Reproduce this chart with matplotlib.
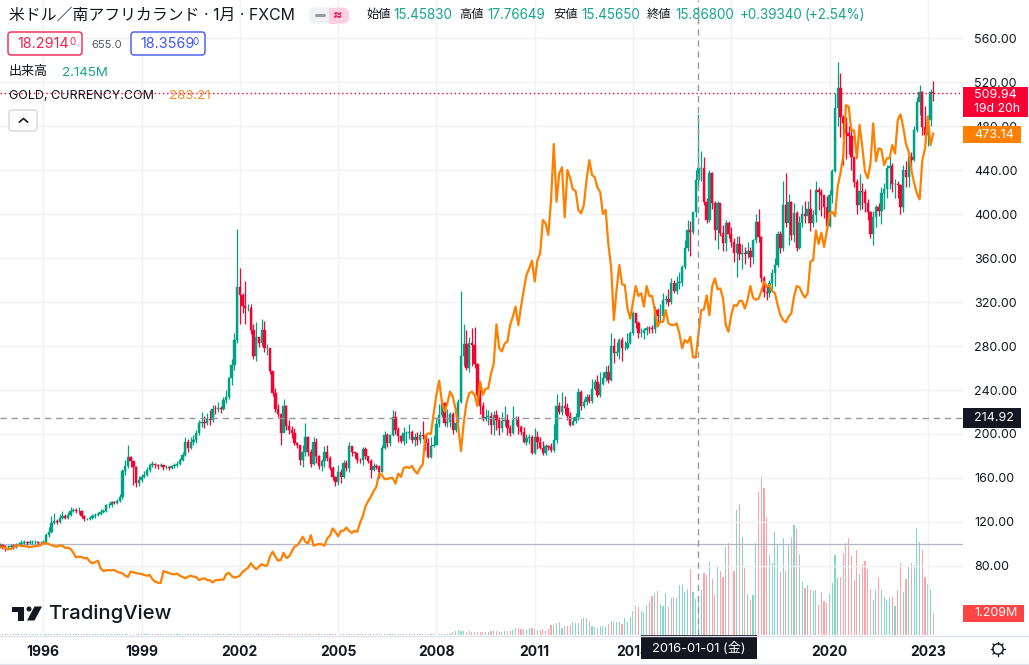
import numpy as np
import matplotlib
matplotlib.use('Agg')
import matplotlib.pyplot as plt
from matplotlib.patches import FancyBboxPatch, Rectangle, Polygon, Circle

plt.rcParams['font.family'] = ['Inter', 'Noto Sans CJK JP', 'DejaVu Sans']

# month index, 0 = 1996-01
months = np.arange(-16, 327)

closes = [99,98,97,97,98,97,99,100,101,102,101,102,102,102,101,101,
 102,108,111,119.5,121,120,124,125,124,126,130,131,130,130,125,123,123,124,125,126,127,129,130,135,135,138,137,139,143,
 166,171,179,175,170,155,158,161,163,167,172,173,172,171,172,170,170,169,171,172,173,176,181,193,187,193,194.5,201,209.6,210.5,209.6,214,212.7,222.7,222.4,223.3,222.4,230.9,233.3,250.5,262.7,285.4,333.3,
 326,316,315,315,295,271,288,283,294.5,278,278,257,237.5,223,218,200.6,225,207,204,200.6,192,190,176,184,197,184,173,193,180,171,175,184,178,169,160.6,156.6,165.7,160.6,173.9,168.7,189,184,182.4,176.3,176,186,180,175.7,167.2,170.9,170.3,165.7,
 187,199,191.5,199,215,204,198,193.6,200.6,201,202,194.5,197,194.5,199,198.5,191.5,179.4,189.4,190,
 209,217,228.5,209.7,211,218,203.6,210,229.4,271,282,260,283,281,264,235.5,225,214,215,216,
 208,217,213,205,212,213,205,201,213,213,206,202,193,196,197.6,183,197.6,193,187.6,182.4,
 189,188.5,185,194.5,225,220,225,223.6,216,208,212,215.8,238.5,225.5,229.4,233.3,230,241,247.6,235.5,
 245.5,250.6,256.7,249,280,274,275,285.5,278.5,278.5,282.4,291.5,309.7,300.6,292,292,294.5,296.7,296,295.5,
 313,307,307,321.8,323,320,337,330,337.6,
 338.5,352,369,385.5,384,401.5,431,441.5,441.5,411,394.5,437,409.7,385.5,409.7,382.4,374,391.5,382,375,365,372.7,363.6,365,363.6,366.7,361,376.4,392.4,379.4,341.5,329.4,328.5,337,346,353.6,381.8,368.8,408,391.5,411,381,400.6,368.8,391.5,400,398,405,391.5,399,421.8,420,417,406.7,389.4,
 417,439.4,496,515,488.5,482.4,474,471,451.5,429.4,408,421,420,410,402,382,397,406,403,419,423,441.5,443.6,427,427,426,406,440,434,452,449,476,502,510.6,479,472,485.5,510.6,509.94]

highs = [101,100,99,99,100,100,101,102,104,104,103,104,104,104,103,103,
 104,110,115,125,128,123,127,130,127,129,134,133,133,134,131,126,124,125,127,128,129,132,132,136,137,139,139,141,145,
 168,176,190,180,175,171,162,164,166,170,174,175,174,173,174,172,172,171,172,174,175,178,184,197,195,197,199,204,213,220,216,219,222,226,226,229,225,234,240,252,268,292,386,
 351,328,339,318,318,300,302,288,305,303,282,262,246,242,227,208,232,226,213,207,205,193,190,190,210,198,186,197,196,181,177,189,190,180,171,162,172,168,176,176,193,189,184,180,178,188,188,178,177,174,173,172,
 190,203,201,200,222,221,206,199,206,203,209,204,201,202,203,212,199,196,197,199,
 215,227,231,229,223,220,220,224,232,330,300,295,288,296,297,265,243,229,223,222,
 220,221,222,215,220,225,218,208,225,216,216,208,206,200,200,199,205,203,197,194,
 191,190,192,209,236,229,238,235,228,220,215,219,242,240,232,236,236,250,250,254,
 256,256,262,263,292,287,284,287,288,285,292,294,312,310,303,296,296,298,298,299,
 316,315,318,328,326,332,342,340,344,
 347,354,376,395,394,402,440,491,457,452,415,440,438,412,412,408,390,395,394,388,378,380,380,373,370,375,370,377,400,405,380,344,335,340,350,360,385,385,430,437,418,412,410,403,398,408,412,412,423,404,430,425,423,412,416,
 422,441,510,538,528,490,488,480,478,450,432,436,428,423,414,403,403,408,410,425,428,445,455,446,432,430,427,445,448,455,456,480,506,517,512,498,490,514,521]

lows = [96,95,94,95,96,95,96,98,99,100,99,100,100,100,99,99,
 100,101,106,110,118,118,119,123,123,123,125,129,128,127,124,121,122,122,123,124,125,126,128,129,133,134,136,136,138,
 141,163,169,170,154,152,153,156,160,162,165,170,169,168,170,167,168,167,168,169,170,172,175,180,184,186,190,192,199,206,205,208,208,211,218,220,219,222,228,232,245,258,283,
 300,310,300,312,291,268,266,279,280,275,272,255,235,220,215,190,203,204,200,196,190,187,172,170,180,180,170,172,174,168,166,170,175,167,158,153,154,155,160,166,165,180,178,174,174,172,177,174,160,166,168,160,
 165,186,188,189,198,200,193,192,190,192,195,192,189,190,192,195,185,178,178,188,
 190,206,215,207,206,206,200,202,208,228,262,258,256,262,260,231,218,212,212,208,
 200,199,204,199,202,207,199,198,200,208,200,199,192,190,191,182,182,186,186,181,
 181,185,184,184,192,218,217,218,213,207,208,210,213,222,224,226,228,228,240,234,
 234,245,248,246,248,265,271,268,266,276,277,282,290,296,287,288,286,290,292,292,
 292,302,302,303,318,316,318,328,327,
 332,335,350,366,362,382,397,425,430,408,392,393,405,376,368,380,366,366,378,370,356,343,358,350,355,360,352,355,374,375,338,325,322,325,330,335,352,365,366,388,372,376,375,366,368,388,392,392,385,388,393,404,398,396,387,
 388,410,438,480,470,445,450,455,440,425,400,404,405,402,395,378,372,388,398,391,405,415,423,420,415,415,400,402,425,425,440,448,475,490,472,465,462,480,503]

gold = [97.6,97.2,96.7,95.2,95.4,96.7,98.8,98.8,98.2,98.2,97.6,97.2,97.6,97.9,98.5,98.8,
 101,100.6,100,99,98,97.6,98.5,98.5,96.4,96.7,
 95.5,92,87.9,88.5,88.2,87,87.3,84,82.4,83.6,
 84.8,77.9,75.4,76,76.3,76,76.4,74.8,73.9,73.3,
 71.2,70,75,74.2,73.6,73,72.7,71.8,71.2,71.8,
 67.9,65.7,64.8,64.5,75.4,74.5,73.6,72.7,72.4,73,
 71.2,70,68.8,70.3,71.2,70.3,70,67.2,68.2,68.8,
 67.2,67,65.1,67,67.2,67.6,67.6,72.7,73.9,70.9,
 69.4,70,71.2,74.8,76.4,78.5,82.4,79.4,77,79.4,
 81.8,80.3,80.3,88.5,93,88.5,84.8,85.4,92,87.3,
 88.5,93,97.6,98.8,102,106.6,102,100.6,108,98.5,
 99.4,100,99.7,98.5,105,107.6,114.2,111,107,
 112,112,115,112,110,112,111,119,125,134,139,143,148,152,164,
 163,159,159,160,160,155,164,161,169,170,169,171,166.7,164,169,172.4,199,200.6,200,218.8,
 235.5,248.5,229.4,220.3,228,238.5,234,223,206.7,184.5,209.7,228,237,238.5,235.5,225.5,247.6,235.5,241,241.5,
 255,264,299.7,278,275,282.4,284,299,306.7,315.8,299,315.8,331,
 344.6,350.6,357.6,338.5,358,364.3,394.6,391.6,381,412.8,463.7,411,437,442.5,397,440,432.5,422.5,421,403.7,400.6,408,431,449,435.5,433.4,424,
 420,400,403.7,372,352,303.6,331,353.6,336,335.5,314,305,320,334.5,325.5,328,315.8,334.5,325.5,325.5,
 312.7,297.6,302,302,312.7,300.6,299,299,300.6,291.5,278,285.5,283,288.5,270,269.4,
 291.5,312.7,313.3,326,308,334,341.5,331.5,332.4,323,299,293,
 308,317.3,316.4,321,321,314,322,334.5,324,322,323,329.4,338.5,334,335.5,330,328,317.3,308,303.6,301.5,306.7,309.7,325,334.5,333.3,328,324,328,356.7,358,385,372.7,383,370,384,
 400.6,402,398,425,437,452,499,497.6,476,476,450.6,481,461,438.5,432.4,446,482.4,448,459.7,458.8,444.5,450.6,450.6,462.7,455,485.5,490.6,479,464,456.7,440,428,418.8,413.3,449,459.7,488.5,462.7,473.14]

# volume in millions, flat thin row before 2007
volume = [0.05]*158 + [0.07]*8 + [.17,.22,.28,.24,.24,.17,.22,.17,.17,.17,.17,.17,.15,.17,.22,.22,.22,.17,.17,.20,.22,.22,.28,.37,.41,.33,.33,.26,.37,.39,.33,.28,.28,.33,.22,.35,.56,.56,.65,.72,.41,.48,.52,.56,.72,.67,.69,.91,.96,.93,.76,.50,.46,.41,
 .50,.50,.46,.61,.78,.72,.72,.72,.61,.93,.74,1.02,1.34,1.62,1.58,1.34,1.28,1.67,1.82,2.17,2.34,2.45,1.73,1.62,2.34,1.56,2.06,2.10,2.06,2.79,2.84,2.40,2.57,3.68,2.40,2.01,
 2.145,2.51,3.46,3.35,4.07,3.12,2.23,3.85,3.57,3.23,4.91,5.13,3.23,3.57,6.97,7.30,5.46,3.74,2.29,1.95,2.23,5.13,7.97,8.87,8.20,6.52,4.46,4.01,5.74,5.02,3.51,5.41,3.57,5.07,5.46,6.13,5.91,4.52,2.96,2.62,2.79,2.51,2.45,2.51,1.67,2.40,1.90,1.78,2.29,2.90,4.46,3.18,3.23,4.57,5.13,5.41,4.41,3.07,4.74,3.40,3.96,4.13,3.68,2.57,1.95,2.51,3.23,2.51,2.12,1.95,2.06,2.12,1.62,2.51,4.01,2.40,3.12,3.79,4.01,3.90,5.97,5.19,4.74,3.23,2.84,2.51,1.209]

price_ticks = [80,120,160,200,240,280,320,360,400,440,480,520,560]
year_ticks = [0,36,72,108,144,180,216,252,288,324]
year_labels = ['1996','1999','2002','2005','2008','2011','2014','2017','2020','2023']

GREEN = '#00a287'
RED = '#f8002f'
ORANGE = '#ff8000'
TEXT = '#131722'
GRID = '#f1f2f6'

closes = np.array(closes, dtype=float)
opens = np.r_[closes[0], closes[:-1]]
up = closes >= opens

W, H = 1029, 665
fig = plt.figure(figsize=(W/100, H/100), dpi=100, facecolor='white')
rect = [0, 30/H, 963/W, 635/H]

# volume sits underneath the prices
axv = fig.add_axes(rect, zorder=0)
axv.bar(months, volume, width=0.42, color=np.where(up, '#7fd8c9', '#ffa3a8'), linewidth=0)
axv.set_xlim(-15.86, 336.9)
axv.set_ylim(0, 35.4)
axv.axis('off')

ax = fig.add_axes(rect, zorder=1)
ax.patch.set_alpha(0)
ax.set_xlim(-15.86, 336.9)
ax.set_ylim(17.27, 594.55)
ax.set_xticks(year_ticks)
ax.set_xticklabels(year_labels, fontsize=10, fontweight='bold', color=TEXT)
ax.set_yticks(price_ticks)
ax.set_yticklabels(['%.2f' % p for p in price_ticks], fontsize=9, color=TEXT)
ax.yaxis.tick_right()
ax.tick_params(axis='both', length=0)
ax.tick_params(axis='x', pad=7)
ax.tick_params(axis='y', pad=8)
ax.grid(True, color=GRID, linewidth=1)
ax.set_axisbelow(True)
for s in ax.spines.values():
    s.set_visible(False)

ax.axhline(100, color='#b2b5c4', linewidth=0.9, zorder=1.5)
ax.vlines(months, lows, highs, color=np.where(up, GREEN, RED), linewidth=0.9, zorder=2)
ax.bar(months, closes-opens, bottom=opens, width=0.86, color=np.where(up, GREEN, RED),
       edgecolor=np.where(up, GREEN, RED), linewidth=0.3, zorder=2.2)
ax.plot(months, gold, color=ORANGE, linewidth=1.6, solid_joinstyle='round', zorder=3)

ax.axhline(closes[-1], color=RED, linewidth=1, linestyle=(0, (1, 2)), zorder=3.5)
ax.axhline(214.92, color='#9598a1', linewidth=1, linestyle=(0, (4.5, 3.5)), zorder=3.5)
ax.axvline(240, color='#9598a1', linewidth=1, linestyle=(0, (4.5, 3.5)), zorder=3.5)

# overlay in pixels for legend, tags and logo
px = fig.add_axes([0, 0, 1, 1], zorder=5)
px.set_xlim(0, W)
px.set_ylim(H, 0)
px.axis('off')

def txt(x, y, s, color=TEXT, size=9.4, ha='left', **kw):
    px.text(x, y, s, color=color, fontsize=size, ha=ha, va='center', **kw)

def tag(x0, x1, y0, y1, color):
    px.add_patch(Rectangle((x0, y0), x1-x0, y1-y0, facecolor=color, edgecolor='none'))

def box(x0, y0, w, h, color):
    px.add_patch(FancyBboxPatch((x0+3, y0+3), w-6, h-6, boxstyle='round,pad=3', facecolor='white',
                                edgecolor=color, linewidth=1))

txt(9, 15, '米ドル／南アフリカランド · 1月 · FXCM', size=11.4)

# pill
px.add_patch(FancyBboxPatch((311, 9.5), 24, 12, boxstyle='round,pad=2,rounding_size=6', facecolor='#f0f1f5', edgecolor='none'))
px.add_patch(FancyBboxPatch((332, 7.5), 17, 16, boxstyle='round,pad=0,rounding_size=6', facecolor='#fbd0e0', edgecolor='none'))
px.add_patch(Rectangle((329, 7.5), 8, 16, facecolor='#fbd0e0', edgecolor='none'))
px.plot([316, 324], [15, 15], color='#9a9ca5', linewidth=2.2, solid_capstyle='round')
txt(338, 15, '≈', color='#e0105a', size=10, ha='center', fontweight='bold')

TEAL = '#17a58c'
for x, s, c in [(366, '始値', TEXT), (393, '15.45830', TEAL), (459, '高値', TEXT), (487, '17.76649', TEAL),
                (553, '安値', TEXT), (581, '15.45650', TEAL), (647, '終値', TEXT), (675, '15.86800', TEAL),
                (740, '+0.39340', TEAL), (805, '(+2.54%)', TEAL)]:
    txt(x, 15, s, color=c, size=9.7 if c == TEAL else 8.8)

box(8, 32, 74, 23, '#f7204f')
txt(17, 44.5, '18.2914', color='#f7204f', size=10.4)
txt(69, 42, '0', color='#f7204f', size=7)
txt(91, 45, '655.0', color='#50535e', size=8)
box(131, 32, 74, 23, '#3f55f0')
txt(140, 44.5, '18.3569', color='#3f55f0', size=10.4)
txt(192, 42, '0', color='#3f55f0', size=7)
txt(9, 72, '出来高', size=9.4)
txt(62, 72.5, '2.145M', color=TEAL, size=9.6)
txt(9, 96, 'GOLD, CURRENCY.COM', size=9)
txt(169, 96, '283.21', color='#ff8a2a', size=9.6)

px.add_patch(FancyBboxPatch((11, 112), 24, 17, boxstyle='round,pad=2,rounding_size=3', facecolor='white',
                            edgecolor='#d6d8e0', linewidth=1))
px.plot([19.5, 23.5, 27.5], [122, 118.5, 122], color=TEXT, linewidth=1.2)

# price tags
tag(963, 1028, 87, 117, '#fb0033')
txt(974, 95, '509.94', color='white', size=9)
txt(974, 108.5, '19d 20h', color='white', size=8.8)
tag(963, 1021, 126, 143, ORANGE)
txt(974, 134.5, '473.14', color='white', size=9)
tag(963, 1021, 408, 428, '#131722')
txt(974, 418, '214.92', color='white', size=9)
tag(963, 1024, 605, 622, '#ff4444')
txt(974, 613.5, '1.209M', color='white', size=9)

# date tag
tag(641, 757, 635, 659, '#131722')
txt(699, 648, '2016-01-01 (金)', color='white', size=9.4, ha='center')

# separators
px.plot([0, W], [635.5, 635.5], color='#e0e3eb', linewidth=1)
px.plot([0, W], [663.5, 663.5], color='#e0e3eb', linewidth=1)

# settings icon
px.add_patch(Circle((998, 649), 5.2, facecolor='none', edgecolor=TEXT, linewidth=1))
for a in np.deg2rad([0, 90, 180, 270, 45, 135, 225, 315]):
    r0, r1 = 5.2, 7
    px.plot([998+r0*np.cos(a), 998+r1*np.cos(a)], [649+r0*np.sin(a), 649+r1*np.sin(a)], color=TEXT, linewidth=0.9)

# TradingView logo
LOGO = '#131722'
px.add_patch(Polygon([(12, 606.5), (23.5, 606.5), (23.5, 620.5), (17.5, 620.5), (17.5, 611.5), (12, 611.5)], facecolor=LOGO, edgecolor='none'))
px.add_patch(Circle((29, 609), 2.5, facecolor=LOGO, edgecolor='none'))
px.add_patch(Polygon([(34.5, 606.5), (42, 606.5), (34.5, 620.5), (27, 620.5)], facecolor=LOGO, edgecolor='none'))
txt(48, 614, 'TradingView', color=LOGO, size=14.6, fontweight='medium')

fig.savefig('out.png', dpi=100, facecolor='white')
